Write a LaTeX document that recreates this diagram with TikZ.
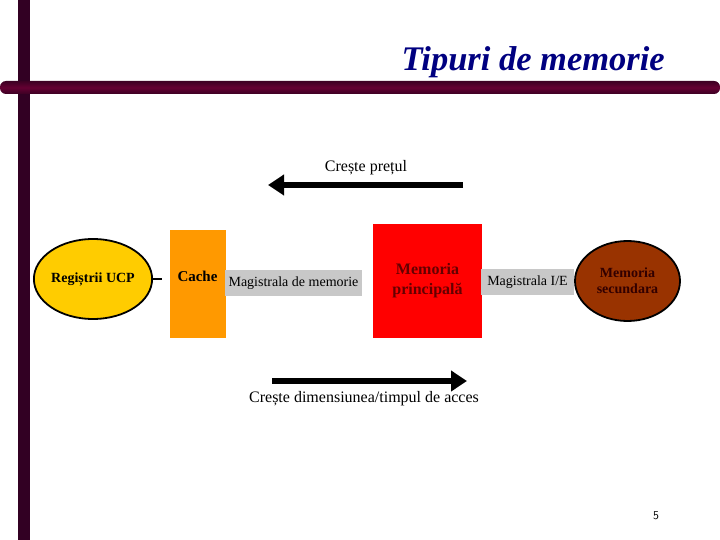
\documentclass[tikz,border=0pt]{standalone}
\usepackage{fontspec}
\setmainfont{Liberation Serif}
\usetikzlibrary{arrows.meta,shapes.geometric}
\definecolor{barA}{RGB}{50,0,35}
\definecolor{barB}{RGB}{100,0,50}
\definecolor{barC}{RGB}{60,0,35}
\definecolor{titleblue}{RGB}{0,0,128}
\definecolor{gold}{RGB}{255,204,0}
\definecolor{cacheor}{RGB}{255,153,0}
\definecolor{busgray}{RGB}{200,200,200}
\definecolor{brownsec}{RGB}{153,51,0}
\definecolor{darkred}{RGB}{100,0,0}
\definecolor{darkbrown}{RGB}{50,0,0}
\tikzset{
  bus/.style={fill=busgray,inner sep=0pt,minimum height=26pt,font=\fontsize{14}{15}\selectfont},
  ovalnode/.style={ellipse,draw=black,line width=1.8pt,inner sep=0pt,font=\bfseries\fontsize{14}{16}\selectfont,align=center},
  bigarrow/.style={line width=6.5pt,-{Triangle[length=16pt,width=20pt]}},
  lbl/.style={font=\fontsize{16}{18}\selectfont,inner sep=0pt}
}
\begin{document}
\begin{tikzpicture}[x=1pt,y=-1pt]
\useasboundingbox (0,0) rectangle (720,540);
% bars
\fill[barA] (18,0) rectangle (30,540);
\shade[top color=barC,bottom color=barC,middle color=barB,rounded corners=6pt] (0,81) rectangle (720,94);
% title
\node[text=titleblue,font=\bfseries\itshape\fontsize{34.5}{38}\selectfont,anchor=base east,inner sep=0pt] (title) at (665,71) {Tipuri de memorie};
% top arrow
\node[lbl] (pret) at (366,168) {Crește prețul};
\coordinate (pa) at (463,185);
\coordinate (pb) at (268,185);
\draw[bigarrow] (pa) -- (pb);
% elements
\node[ovalnode,fill=gold,minimum width=112pt,minimum height=80pt] (ucp) at (93,279) {Regiștrii UCP};
\node[fill=cacheor,minimum width=56pt,minimum height=108pt,inner sep=0pt] (cache) at (198,284) {};
\node[font=\bfseries\fontsize{15}{17}\selectfont,inner sep=0pt] (cachet) at (197.5,276) {Cache};
\coordinate (cachein) at ([xshift=-8pt]cache.west |- ucp.east);
\draw[line width=1.4pt] (ucp.east) -- (cachein);
\node[bus,minimum width=137pt] (magmem) at (293.5,283) {Magistrala de memorie};
\node[fill=red,minimum width=109pt,minimum height=113pt,inner sep=0pt,text=darkred,font=\bfseries\fontsize{16}{20}\selectfont,align=center] (mp) at (427.5,281) {Memoria\\principală};
\node[bus,minimum width=93pt] (magie) at (527.5,282) {Magistrala I/E};
\node[ovalnode,fill=brownsec,text=darkbrown,minimum width=105pt,minimum height=80pt] (sec) at (627.5,281) {Memoria\\secundara};
% bottom arrow
\coordinate (da) at (272,381);
\coordinate (db) at (467,381);
\draw[bigarrow] (da) -- (db);
\node[lbl] (dim) at (364,399) {Crește dimensiunea/timpul de acces};
% page number
\node[font=\sffamily\fontsize{12}{14}\selectfont,inner sep=0pt] (pg) at (656,516) {5};
\end{tikzpicture}
\end{document}
